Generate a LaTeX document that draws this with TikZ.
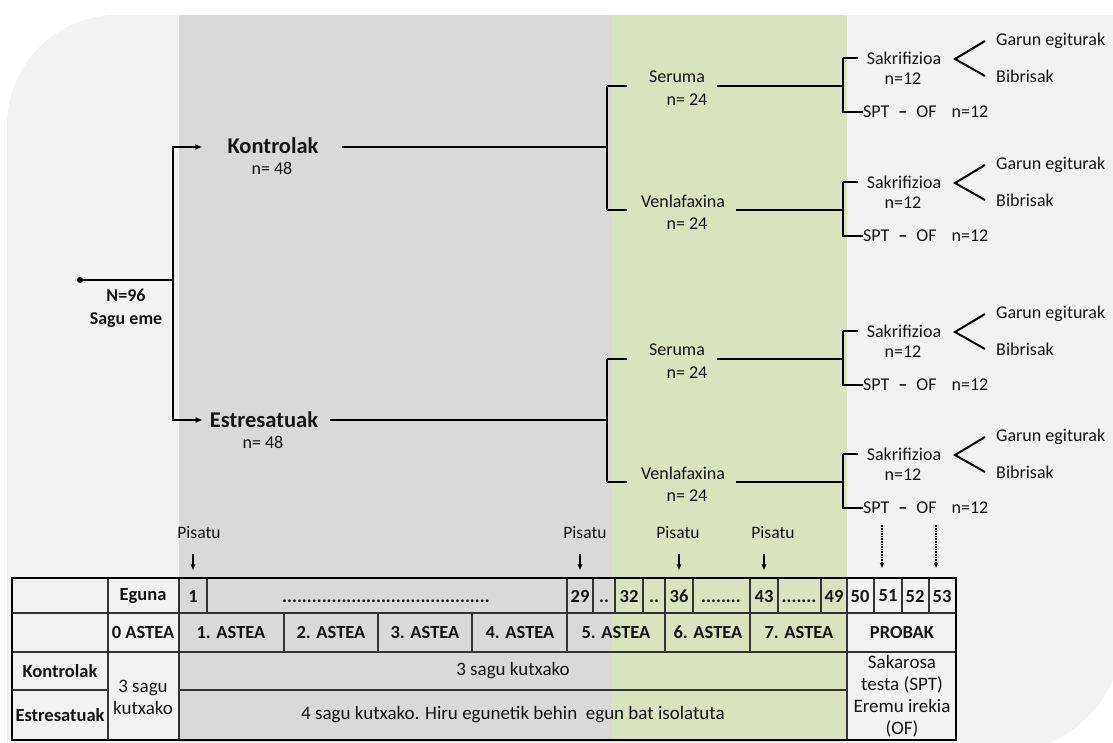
\documentclass[tikz,border=0pt]{standalone}
\usepackage{fontspec}
\setmainfont{Carlito}
\usetikzlibrary{positioning,arrows.meta,calc}
\definecolor{bgFill}{HTML}{F2F2F2}
\definecolor{bandGray}{HTML}{D9D9D9}
\definecolor{bandGreen}{HTML}{D7E4BD}
\definecolor{txtCol}{HTML}{141414}
\definecolor{gridCol}{HTML}{333333}

\begin{document}
\begin{tikzpicture}[x=1pt, y=-1pt,
  txt/.style   ={inner sep=0pt, text=txtCol, font=\fontsize{18}{22}\selectfont},
  grp/.style   ={inner sep=0pt, text=txtCol, font=\fontsize{22.5}{27}\selectfont\bfseries},
  grpS/.style  ={inner sep=0pt, text=txtCol, align=center, font=\fontsize{18}{23}\selectfont\bfseries},
  cellB/.style ={inner sep=0pt, text=txtCol, font=\fontsize{18.5}{22}\selectfont\bfseries},
  cellR/.style ={inner sep=0pt, text=txtCol, align=center, font=\fontsize{19}{22}\selectfont},
  pis/.style   ={inner sep=0pt, text=txtCol, font=\fontsize{17.5}{21}\selectfont},
  tree/.style  ={line width=2.4pt, black},
  arr/.style   ={tree, -{Latex[length=7pt, width=6pt]}},
  pisArr/.style={line width=1.4pt, black, -{Latex[length=6pt, width=5.5pt]}},
  dotArr/.style={line width=1.1pt, black, dash pattern=on 1.6pt off 1pt, -{Latex[length=5.5pt, width=5pt]}},
  grid/.style  ={line width=1.6pt, gridCol},
  frame/.style ={line width=2.6pt, black},
]
\useasboundingbox (0,0) rectangle (1113,742);
\clip (0,0) rectangle (1113,742);

% ==================== Background + time bands ====================
\fill[bgFill] (7,752) -- (7,125) arc[start angle=180, end angle=270, radius=110]
  -- (1123,15) -- (1123,632) arc[start angle=0, end angle=90, radius=120] -- cycle;
\fill[bandGray]  (179,15) rectangle (612,742);
\fill[bandGreen] (612,15) rectangle (847,742);

% ==================== Tree: root + groups ====================
\coordinate (root) at (80,280);
\coordinate (j0) at (173,280);
\fill (root) circle[radius=3];
\node[grpS] (nall) at (126,308) {N=96\\Sagu eme};

\node[grp] (ktrl)  at (273,146) {Kontrolak};
\node[txt] (ktrln) at (272,168) {n= 48};
\node[grp] (estr)  at (264,420) {Estresatuak};
\node[txt] (estrn) at (263,442) {n= 48};

\coordinate (kj) at (607,147);
\coordinate (ej) at (607,420);

\draw[tree] (root) -- (j0);
\draw[arr] (j0) |- ($(ktrl.west |- kj)+(-25,0)$);
\draw[arr] (j0) |- ($(estr.west |- ej)+(-7,0)$);
\draw[tree] ($(ktrl.east |- kj)+(23,0)$) -- (kj);
\draw[tree] ($(estr.east |- ej)+(12,0)$) -- (ej);

% ==================== Treatment + test branches ====================
\foreach \m/\lab/\lx/\gap [count=\i] in {86/Seruma/677/12, 210/Venlafaxina/683/11, 359/Seruma/677/12, 482/Venlafaxina/683/11}{
  \node[txt] (sub\i)  at (\lx,\m-9) {\lab};
  \node[txt] (subn\i) at (687,\m+14) {n= 24};
  \coordinate (st\i) at (607,\m);
  \coordinate (lj\i) at (843,\m);
  \coordinate (lt\i) at (843,\m-28);
  \coordinate (lb\i) at (843,\m+26);
  \coordinate (ap\i) at (955,\m-27);
  \draw[tree] (st\i) -- ++(20,0);
  \draw[tree] ($(sub\i.east |- st\i)+(\gap,0)$) -- (lj\i);
  % sacrifice / behaviour
  \node[txt] (sak\i)  at (904,\m-28) {Sakrifizioa};
  \node[txt] (sakn\i) at (903,\m-7)  {n=12};
  \node[txt, anchor=west] (spt\i) at (863,\m+26) {SPT\hspace{9pt}{\bfseries –}\hspace{9pt}OF\hspace{15pt}n=12};
  \node[txt, anchor=west] (gar\i) at (996,\m-45) {Garun egiturak};
  \node[txt, anchor=west] (bib\i) at (996,\m-10) {Bibrisak};
  \draw[tree] (lt\i) -- (lb\i) -- (spt\i.west);
  \draw[tree] (lt\i) -- ++(15,0);
  \draw[tree, line width=2pt] ([xshift=-11pt]gar\i.west) -- (ap\i) -- ([xshift=-11pt]bib\i.west);
}
\draw[tree] (st1) -- (st2);
\draw[tree] (st3) -- (st4);

% ==================== Timeline table ====================
% grid lines
\draw[grid] (12,613) -- (956,613);
\draw[grid] (12,652) -- (956,652);
\draw[grid] (12,690) -- (108,690);
\draw[grid] (179,690) -- (847,690);
\foreach \x in {108,179,847} \draw[grid] (\x,578) -- (\x,740);
\foreach \x in {207,567,593,615,643,665,693,750,778,821,874,902,929} \draw[grid] (\x,578) -- (\x,613);
\foreach \x in {284,378,472,567,665,750} \draw[grid] (\x,613) -- (\x,652);
\draw[frame] (12,578) rectangle (956,740);

% day row
\node[cellB] (eguna) at (143,596) {Eguna};
\foreach \x/\d in {193/1, 580/29, 629/32, 679/36, 764/43, 834/49, 860/50, 888/51, 915/52, 942/53}
  \node[cellB, minimum height=35pt] (day\d) at (\x,596) {\d};
\foreach \x/\t [count=\i] in {386/{..........................................}, 604/{..}, 654/{..}, 721/{........}, 799/{.......}}
  \node[cellB, anchor=base] (dots\i) at (\x,602) {\t};

% week row
\node[cellB] (astea0) at (143,632) {0 ASTEA};
\foreach \x/\w in {231/1, 331/2, 425/3, 520/4, 616/5, 708/6, 799/7}
  \node[cellB] (astea\w) at (\x,632) {\w. ASTEA};
\node[cellB] (probak) at (902,632) {PROBAK};

% housing rows
\node[cellB] (tkon)  at (60,671) {Kontrolak};
\node[cellB] (testr) at (60,715) {Estresatuak};
\node[cellR] (kutx0) at (143,697) {3 sagu\\kutxako};
\node[cellR] (kutxK) at (513,671) {3 sagu kutxako};
\node[cellR] (kutxE) at (513,715) {4 sagu kutxako. Hiru egunetik behin\ \ egun bat isolatuta};
\node[cellR] (probTxt) at (902,696) {Sakarosa\\testa (SPT)\\Eremu irekia\\(OF)};

% ==================== Weighing + test markers ====================
\foreach \x/\d [count=\i] in {199/1, 585/29, 678/36, 773/43}{
  \node[pis] (pis\i) at (\x,533) {Pisatu};
  \draw[pisArr] ([yshift=24pt]day\d.north) -- ([yshift=8pt]day\d.north);
}
\foreach \d in {51,53}
  \draw[dotArr] ([xshift=-6pt,yshift=53pt]day\d.north) -- ([xshift=-6pt,yshift=10pt]day\d.north);

\end{tikzpicture}
\end{document}
